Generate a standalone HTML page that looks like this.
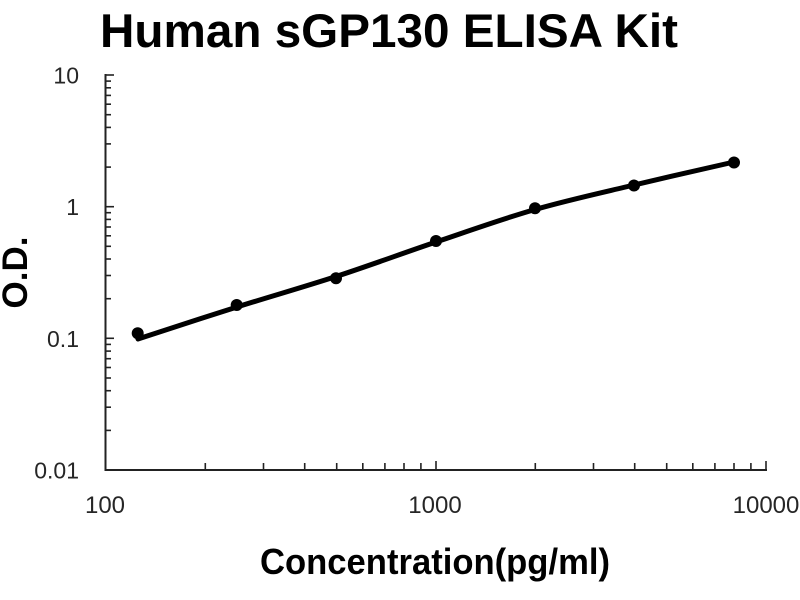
<!DOCTYPE html>
<html>
<head>
<meta charset="utf-8">
<style>
  html, body { margin: 0; padding: 0; background: #ffffff; }
  body { width: 800px; height: 600px; overflow: hidden; }
  svg { display: block; }
  text { font-family: "Liberation Sans", Arial, sans-serif; }
</style>
</head>
<body>
<svg width="800" height="600" viewBox="0 0 800 600" xmlns="http://www.w3.org/2000/svg">
  <rect x="0" y="0" width="800" height="600" fill="#ffffff"/>

  <!-- Title -->
  <text x="100" y="47" font-size="47" font-weight="bold" fill="#000" textLength="578" lengthAdjust="spacingAndGlyphs">Human sGP130 ELISA Kit</text>

  <!-- Axes -->
  <line x1="105.5" y1="74" x2="105.5" y2="471" stroke="#222" stroke-width="2"/>
  <line x1="105" y1="470" x2="767" y2="470" stroke="#222" stroke-width="2"/>

  <!-- Y ticks (inside, to the right) -->
  <g stroke="#222" stroke-width="1.6">
    <!-- majors -->
    <line x1="105" y1="75" x2="114" y2="75"/>
    <line x1="105" y1="206.7" x2="114" y2="206.7"/>
    <line x1="105" y1="338.3" x2="114" y2="338.3"/>
    <!-- decade 0.01-0.1 (bottom 470) -->
    <line x1="105" y1="430.4" x2="111" y2="430.4"/>
    <line x1="105" y1="407.2" x2="111" y2="407.2"/>
    <line x1="105" y1="390.7" x2="111" y2="390.7"/>
    <line x1="105" y1="378.0" x2="111" y2="378.0"/>
    <line x1="105" y1="367.5" x2="111" y2="367.5"/>
    <line x1="105" y1="358.7" x2="111" y2="358.7"/>
    <line x1="105" y1="351.1" x2="111" y2="351.1"/>
    <line x1="105" y1="344.4" x2="111" y2="344.4"/>
    <!-- decade 0.1-1 (bottom 338.3) -->
    <line x1="105" y1="298.7" x2="111" y2="298.7"/>
    <line x1="105" y1="275.5" x2="111" y2="275.5"/>
    <line x1="105" y1="259.0" x2="111" y2="259.0"/>
    <line x1="105" y1="246.3" x2="111" y2="246.3"/>
    <line x1="105" y1="235.8" x2="111" y2="235.8"/>
    <line x1="105" y1="227.0" x2="111" y2="227.0"/>
    <line x1="105" y1="219.4" x2="111" y2="219.4"/>
    <line x1="105" y1="212.7" x2="111" y2="212.7"/>
    <!-- decade 1-10 (bottom 206.7) -->
    <line x1="105" y1="167.1" x2="111" y2="167.1"/>
    <line x1="105" y1="143.9" x2="111" y2="143.9"/>
    <line x1="105" y1="127.4" x2="111" y2="127.4"/>
    <line x1="105" y1="114.7" x2="111" y2="114.7"/>
    <line x1="105" y1="104.2" x2="111" y2="104.2"/>
    <line x1="105" y1="95.4" x2="111" y2="95.4"/>
    <line x1="105" y1="87.8" x2="111" y2="87.8"/>
    <line x1="105" y1="81.1" x2="111" y2="81.1"/>
  </g>

  <!-- X ticks (inside, upward) -->
  <g stroke="#222" stroke-width="1.6">
    <!-- majors -->
    <line x1="436" y1="470" x2="436" y2="461"/>
    <line x1="766" y1="470" x2="766" y2="461"/>
    <!-- decade 100-1000 (start 106) -->
    <line x1="205.3" y1="470" x2="205.3" y2="463"/>
    <line x1="263.5" y1="470" x2="263.5" y2="463"/>
    <line x1="304.7" y1="470" x2="304.7" y2="463"/>
    <line x1="336.7" y1="470" x2="336.7" y2="463"/>
    <line x1="362.8" y1="470" x2="362.8" y2="463"/>
    <line x1="384.9" y1="470" x2="384.9" y2="463"/>
    <line x1="404.0" y1="470" x2="404.0" y2="463"/>
    <line x1="420.9" y1="470" x2="420.9" y2="463"/>
    <!-- decade 1000-10000 (start 436) -->
    <line x1="535.3" y1="470" x2="535.3" y2="463"/>
    <line x1="593.5" y1="470" x2="593.5" y2="463"/>
    <line x1="634.7" y1="470" x2="634.7" y2="463"/>
    <line x1="666.7" y1="470" x2="666.7" y2="463"/>
    <line x1="692.8" y1="470" x2="692.8" y2="463"/>
    <line x1="714.9" y1="470" x2="714.9" y2="463"/>
    <line x1="734.0" y1="470" x2="734.0" y2="463"/>
    <line x1="750.9" y1="470" x2="750.9" y2="463"/>
  </g>

  <!-- Y tick labels -->
  <g font-size="23" fill="#262626" text-anchor="end">
    <text x="79" y="83.5">10</text>
    <text x="79" y="215">1</text>
    <text x="79" y="347">0.1</text>
    <text x="79" y="478.5">0.01</text>
  </g>

  <!-- X tick labels -->
  <g font-size="24" fill="#262626" text-anchor="middle">
    <text x="105" y="513">100</text>
    <text x="435" y="513">1000</text>
    <text x="766" y="513">10000</text>
  </g>

  <!-- Axis titles -->
  <text x="260" y="574" font-size="36" font-weight="bold" fill="#000" textLength="350" lengthAdjust="spacingAndGlyphs">Concentration(pg/ml)</text>
  <text transform="translate(27,272.5) rotate(-90)" font-size="35" font-weight="bold" fill="#000" text-anchor="middle">O.D.</text>

  <!-- Fitted curve -->
  <path d="M138,339 C154.5,333.7 204,317.4 237,307 C270,296.6 302.8,287.3 336,276.5 C369.2,265.7 402.8,253.2 436,242 C469.2,230.8 502,219 535,209.5 C568,200 600.8,192.9 634,185 C667.2,177.1 717.3,165.8 734,162"
        fill="none" stroke="#000" stroke-width="5" stroke-linecap="round" stroke-linejoin="round"/>

  <!-- Data points -->
  <g fill="#000">
    <circle cx="137.7" cy="333.3" r="6"/>
    <circle cx="236.7" cy="305" r="6"/>
    <circle cx="336" cy="278.3" r="6"/>
    <circle cx="436" cy="241" r="6"/>
    <circle cx="535" cy="208.3" r="6"/>
    <circle cx="634" cy="185.5" r="6"/>
    <circle cx="734" cy="162.5" r="6"/>
  </g>
</svg>
</body>
</html>
